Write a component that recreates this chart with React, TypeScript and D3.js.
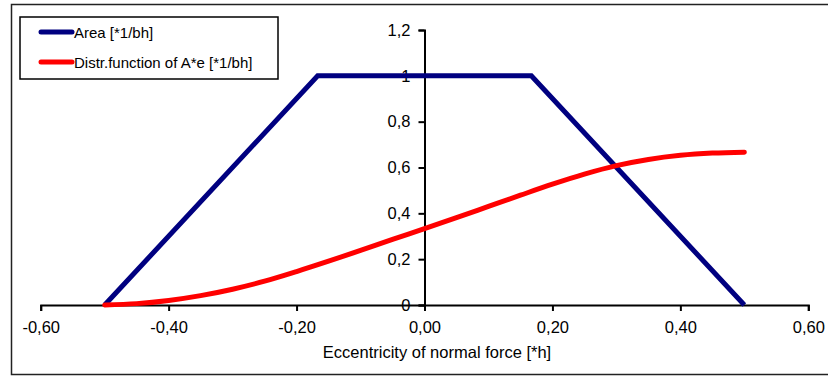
import React, { useRef, useEffect } from 'react'
import * as d3 from 'd3'

// Area (trapezoid) series
const areaE = [-0.5, -0.167, 0.167, 0.5]
const areaVal = [0, 1, 1, 0]

// Distribution function of A*e
const distrE = [-0.5, -0.45, -0.4, -0.35, -0.3, -0.25, -0.2, -0.15, -0.1, -0.05, 0, 0.05, 0.1, 0.15, 0.2, 0.25, 0.3, 0.35, 0.4, 0.45, 0.5]
const distrVal = [0, 0.006, 0.02, 0.041, 0.069, 0.104, 0.146, 0.191, 0.238, 0.286, 0.333, 0.381, 0.43, 0.479, 0.527, 0.571, 0.608, 0.635, 0.653, 0.663, 0.667]

const xTicks = [-0.6, -0.4, -0.2, 0, 0.2, 0.4, 0.6]
const yTicks = [0, 0.2, 0.4, 0.6, 0.8, 1, 1.2]

const legendLabels = ['Area [*1/bh]', 'Distr.function of A*e [*1/bh]']
const axisTitle = 'Eccentricity of normal force [*h]'

const W = 828
const H = 376

const App = () => {
    const chartRef = useRef(null)

    useEffect(() => {
        const svg = d3.select(chartRef.current)
        svg.selectAll('*').remove()

        const font = 'Arial, "Liberation Sans", sans-serif'

        // outer frame
        svg.append('rect')
            .attr('x', 11.5).attr('y', 4.5)
            .attr('width', 830).attr('height', 370)
            .attr('fill', 'white')
            .attr('stroke', '#222')
            .attr('stroke-width', 1.5)

        const x = d3.scaleLinear().domain([-0.6, 0.6]).range([40.7, 808.3])
        const y = d3.scaleLinear().domain([0, 1.2]).range([305, 30])

        // x axis
        const xAxis = svg.append('g')
            .attr('transform', `translate(0,${y(0)})`)
            .call(d3.axisBottom(x).tickValues(xTicks).tickSize(6).tickPadding(10)
                .tickFormat(d => d3.format('.2f')(d).replace('.', ',').replace('−', '-')))
        xAxis.select('.domain').attr('stroke', '#000').attr('stroke-width', 2)
        xAxis.selectAll('.tick line').attr('stroke', '#000').attr('stroke-width', 2)
        xAxis.selectAll('.tick text')
            .attr('font-family', font).attr('font-size', 16.5).attr('fill', '#000')

        // y axis crossing at 0
        const yAxis = svg.append('g')
            .attr('transform', `translate(${x(0)},0)`)
            .call(d3.axisLeft(y).tickValues(yTicks).tickSize(6).tickPadding(8)
                .tickFormat(d => String(d).replace('.', ',')))
        yAxis.select('.domain').attr('stroke', '#000').attr('stroke-width', 2)
        yAxis.selectAll('.tick line').attr('stroke', '#000').attr('stroke-width', 2)
        yAxis.selectAll('.tick text')
            .attr('font-family', font).attr('font-size', 16.5).attr('fill', '#000')

        // axis title
        svg.append('text')
            .attr('x', 437).attr('y', 358)
            .attr('text-anchor', 'middle')
            .attr('font-family', font).attr('font-size', 16.5)
            .attr('fill', '#000')
            .text(axisTitle)

        const line = d3.line().x(d => x(d[0])).y(d => y(d[1]))

        // area trapezoid
        svg.append('path')
            .datum(areaE.map((e, i) => [e, areaVal[i]]))
            .attr('d', line)
            .attr('fill', 'none')
            .attr('stroke', '#000080')
            .attr('stroke-width', 5)
            .attr('stroke-linejoin', 'miter')

        // distribution function
        svg.append('path')
            .datum(distrE.map((e, i) => [e, distrVal[i]]))
            .attr('d', line.curve(d3.curveMonotoneX))
            .attr('fill', 'none')
            .attr('stroke', '#ff0000')
            .attr('stroke-width', 5)
            .attr('stroke-linecap', 'round')

        // legend
        const legend = svg.append('g')
        legend.append('rect')
            .attr('x', 20).attr('y', 17)
            .attr('width', 258).attr('height', 62)
            .attr('fill', 'white')
            .attr('stroke', '#000')
            .attr('stroke-width', 1.5)

        const legendColors = ['#000080', '#ff0000']
        legendLabels.forEach((label, i) => {
            const row = legend.append('g').attr('transform', `translate(0,${32 + i * 30})`)
            row.append('line')
                .attr('x1', 41).attr('x2', 72)
                .attr('stroke', legendColors[i])
                .attr('stroke-width', 5)
                .attr('stroke-linecap', 'round')
            row.append('text')
                .attr('x', 74).attr('y', 5.5)
                .attr('font-family', font).attr('font-size', 15)
                .attr('fill', '#000')
                .text(label)
        })
    }, [])

    return (
        <svg ref={chartRef} width={W} height={H}
            style={{ position: 'absolute', left: 0, top: 0, display: 'block', background: 'white' }} />
    )
}

export default App
